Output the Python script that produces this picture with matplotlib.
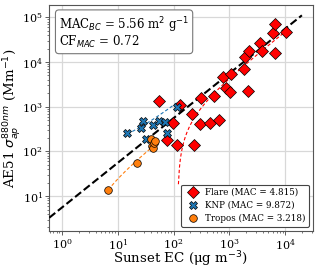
import numpy as np
from matplotlib import pyplot as plt

plt.rcParams['font.family'] = ['DejaVu Serif']
plt.rcParams['mathtext.fontset'] = 'dejavusans'

# values (Sunset EC in ug m-3, AE51 sigma_ap in Mm-1)
flare_ec = [55.4, 77.8, 96.4, 116, 133, 216, 234, 297, 306, 458, 541, 651, 759,
            869, 1025, 1055, 1849, 1928, 2182, 2218, 3535, 3839, 5970, 6486,
            6563, 10330]
flare_abs = [1377, 182, 437, 141, 1075, 693, 141, 410, 1581, 437, 1709, 509,
             4740, 2607, 2188, 5446, 7046, 12880, 2302, 18080, 27300, 18080,
             44340, 15810, 70470, 48090]

knp_ec = [14.8, 25.7, 28.6, 32.4, 42.2, 55.4, 71.0, 77.1, 114]
knp_abs = [254, 332, 484, 194, 387, 491, 452, 257, 1009]

tropos_ec = [6.76, 22.4, 39.4, 41.9, 43.3, 44.5, 46.4]
tropos_abs = [13.8, 56.5, 193, 130, 117, 153, 173]

mac_bc = 5.56
cf_mac = 0.72
# per-site linear fits: slope (MAC) and intercept
macs = {'Flare': 4.815, 'KNP': 9.872, 'Tropos': 3.218}
intercepts = {'Flare': -570, 'KNP': 100, 'Tropos': -8}

series = [
    ('Flare', flare_ec, flare_abs, 'red', 'D', 6),
    ('KNP', knp_ec, knp_abs, 'tab:blue', 'X', 5.5),
    ('Tropos', tropos_ec, tropos_abs, 'tab:orange', 'o', 5.5),
]

fig = plt.figure(figsize=(3.2, 2.71), dpi=100)
ax = fig.add_axes([0.153, 0.148, 0.825, 0.834])

xl = np.logspace(-1, 4.3, 50)
ax.plot(xl, mac_bc * xl, '--', color='k', lw=1.5, zorder=3)

for name, x, y, c, m, ms in series:
    x = np.array(x)
    xf = np.linspace(x.min(), x.max(), 2000)
    yf = macs[name] * xf + intercepts[name]
    ok = yf > 0
    ax.plot(xf[ok], yf[ok], '--', color=c, lw=0.8, dashes=(3, 2), zorder=2)
    ax.plot(x, y, ls='none', marker=m, ms=ms, mfc=c, mec='k', mew=0.5,
            zorder=4, label='%s (MAC = %.3f)' % (name, macs[name]))

ax.set_xscale('log')
ax.set_yscale('log')
ax.set_xlim(0.585, 31500)
ax.set_ylim(1.67, 1.9e5)

ax.grid(True, which='major', color='#d8d8d8', lw=0.9)
ax.set_axisbelow(True)
for s in ax.spines.values():
    s.set_color('#555555')
ax.tick_params(which='both', colors='#444444', labelcolor='k', labelsize=8, pad=1.5)
ax.tick_params(which='major', length=3, width=0.6)
ax.tick_params(which='minor', length=1.5, width=0.5)

ax.set_xlabel('Sunset EC (μg m$^{-3}$)', fontsize=9.6, labelpad=-1.5)
ax.set_ylabel(r'AE51 $\sigma_{ap}^{880nm}$ (Mm$^{-1}$)', fontsize=9.6, labelpad=-0.5)

ax.text(0.038, 0.955, 'MAC$_{BC}$ = %.2f m$^2$ g$^{-1}$\nCF$_{MAC}$ = %.2f' % (mac_bc, cf_mac),
        transform=ax.transAxes, va='top', ha='left', fontsize=8.5, linespacing=0.95,
        bbox=dict(boxstyle='round,pad=0.3', fc='white', ec='#777777', lw=0.8))

leg = ax.legend(loc='lower right', fontsize=6.3, handletextpad=0.3,
                handlelength=2.0, borderpad=0.4, labelspacing=0.45,
                fancybox=True, framealpha=1, borderaxespad=0.5)
leg.get_frame().set_edgecolor('#444444')
leg.get_frame().set_linewidth(0.8)

fig.savefig('out.png', dpi=100)
